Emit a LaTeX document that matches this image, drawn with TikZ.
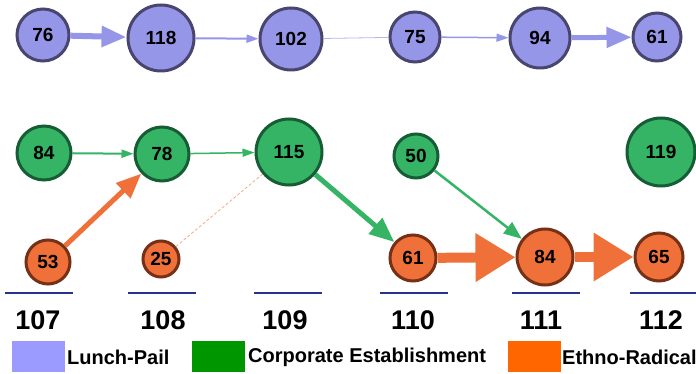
\documentclass[tikz,border=0pt]{standalone}
\usepackage{fontspec}
\setmainfont{Liberation Sans}
\usepackage{tikz}
\usetikzlibrary{arrows.meta}
\definecolor{lpfill}{RGB}{150,150,232}
\definecolor{lpdark}{RGB}{72,70,110}
\definecolor{lpkey}{RGB}{155,155,255}
\definecolor{cefill}{RGB}{52,180,100}
\definecolor{cedark}{RGB}{22,92,52}
\definecolor{cekey}{RGB}{0,150,0}
\definecolor{erfill}{RGB}{240,112,58}
\definecolor{erdark}{RGB}{118,48,22}
\definecolor{erkey}{RGB}{255,102,0}
\definecolor{yearline}{RGB}{40,50,140}

\tikzset{
  party/.style={circle, line width=3pt, inner sep=0pt, font=\fontsize{19}{19}\selectfont\bfseries},
  lp/.style={party, draw=lpdark, fill=lpfill},
  ce/.style={party, draw=cedark, fill=cefill},
  er/.style={party, draw=erdark, fill=erfill},
  smallhead/.style={-{Triangle[length=12pt,width=8pt]}},
  midhead/.style={-{Triangle[length=18pt,width=14pt]}},
  bighead/.style={-{Triangle[length=25pt,width=20pt]}},
  hugehead/.style={-{Triangle[length=40pt,width=46pt]}},
  keybox/.style={minimum width=53pt, minimum height=31pt, inner sep=0pt},
  keytext/.style={anchor=west, inner sep=0pt, font=\fontsize{20}{20}\selectfont\bfseries}
}

\begin{document}
\begin{tikzpicture}[x=1pt, y=-1pt]
        \useasboundingbox (0,0) rectangle (696,374);

        % Lunch-Pail
        \node[lp, minimum size=52pt] (lp107) at (43,35) {76};
        \node[lp, minimum size=66pt] (lp108) at (161,38) {118};
        \node[lp, minimum size=62pt] (lp109) at (291,39) {102};
        \node[lp, minimum size=50pt] (lp110) at (415,37) {75};
        \node[lp, minimum size=60pt] (lp111) at (540,38) {94};
        \node[lp, minimum size=48pt] (lp112) at (657,37) {61};

        % Corporate Establishment
        \node[ce, minimum size=54pt] (ce107) at (44,153) {84};
        \node[ce, minimum size=54pt] (ce108) at (162,154) {78};
        \node[ce, minimum size=66pt] (ce109) at (289,152) {115};
        \node[ce, minimum size=44pt] (ce110) at (416,156) {50};
        \node[ce, minimum size=68pt] (ce112) at (661,152) {119};

        % Ethno-Radical
        \node[er, minimum size=44pt] (er107) at (48,262) {53};
        \node[er, minimum size=36pt] (er108) at (161,259) {25};
        \node[er, minimum size=46pt] (er110) at (413,258) {61};
        \node[er, minimum size=56pt] (er111) at (545,257) {84};
        \node[er, minimum size=48pt] (er112) at (659,257) {65};

        % Flows
        \draw[bighead, lpfill, line width=6pt] (lp107) -- (lp108);
        \draw[smallhead, lpfill, line width=2pt] (lp108) -- (lp109);
        \draw[lpfill!70, line width=0.8pt] (lp109) -- (lp110);
        \draw[smallhead, lpfill, line width=1.5pt] (lp110) -- (lp111);
        \draw[bighead, lpfill, line width=5pt] (lp111) -- (lp112);

        \draw[smallhead, cefill, line width=2pt] (ce107) -- (ce108);
        \draw[smallhead, cefill, line width=1.5pt] (ce108) -- (ce109);
        \draw[bighead, cefill, line width=5pt] (ce109) -- (er110);
        \draw[midhead, cefill, line width=2.5pt] (ce110) -- (er111);

        \draw[bighead, erfill, line width=5pt] (er107) -- (ce108);
        \draw[erfill!60, line width=0.8pt, densely dashed] (er108) -- (ce109);
        \draw[hugehead, erfill, line width=10pt] (er110) -- (er111);
        \draw[hugehead, erfill, line width=10pt] (er111) -- (er112);

        % Years
        \foreach \x/\lx/\yr in {39/38/107, 162/163/108, 288/285/109, 414/413/110, 546/541/111, 664/661/112} {
          \draw[yearline, line width=2pt] (\x-34,293) -- (\x+34,293);
          \node[font=\fontsize{27}{27}\selectfont\bfseries] (yr\yr) at (\lx,320) {\yr};
        }

        % Legend
        \node[keybox, fill=lpkey] (key1) at (38.5,356.5) {};
        \node[keytext] (lbl1) at (67,357) {Lunch-Pail};
        \node[keybox, fill=cekey] (key2) at (218.5,356.5) {};
        \node[keytext] (lbl2) at (248,357) {Corporate Establishment};
        \node[keybox, fill=erkey] (key3) at (534,356.5) {};
        \node[keytext] (lbl3) at (562,357) {Ethno-Radical};
\end{tikzpicture}
\end{document}
